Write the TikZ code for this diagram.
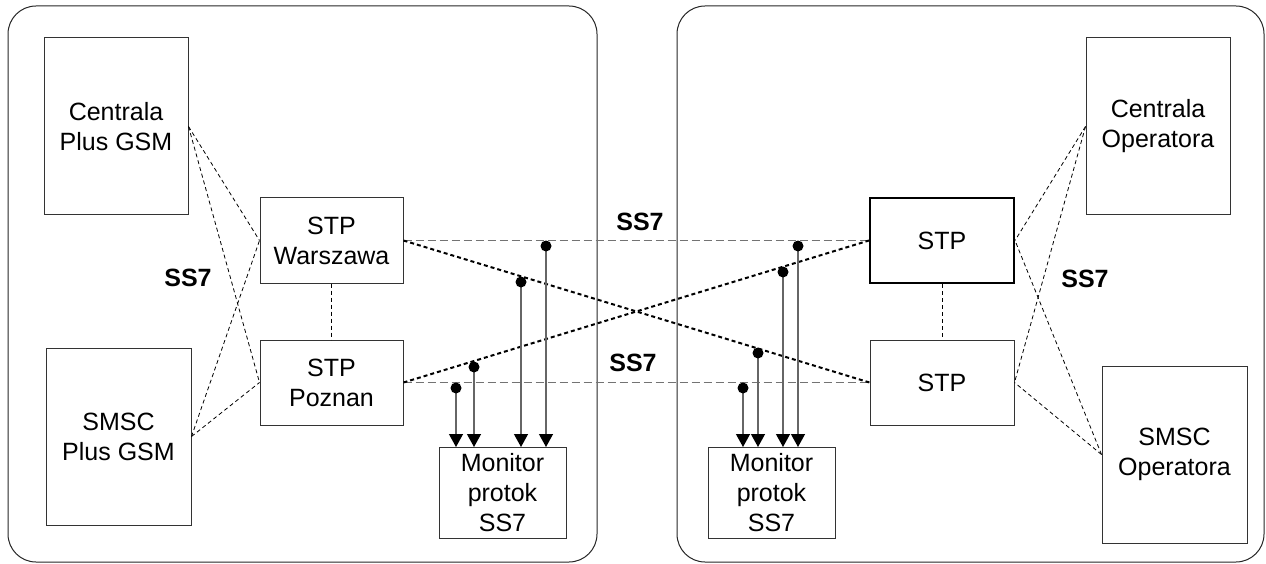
\documentclass[tikz,border=0pt]{standalone}
\usepackage{fontspec}
\setmainfont{Liberation Sans}
\usetikzlibrary{arrows.meta}
\tikzset{
  box/.style={draw=black!80, line width=1pt, inner sep=0pt, align=center,
    font=\fontsize{25}{30}\selectfont},
  panel/.style={draw=black!85, line width=1pt, rounded corners=28pt},
  thindash/.style={draw=black, line width=0.8pt, dash pattern=on 4pt off 3pt},
  hdash/.style={draw=black!55, line width=1.6pt, dash pattern=on 8pt off 4pt},
  diag/.style={draw=black, line width=2pt, dash pattern=on 4pt off 3pt},
  tap/.style={draw=black!60, line width=1.3pt, -{Triangle[length=13pt,width=14pt,color=black]}},
  tapdot/.style={fill=black},
  lbl/.style={font=\fontsize{25}{30}\selectfont\bfseries, inner sep=0pt}
}
\begin{document}
\begin{tikzpicture}[x=1pt,y=-1pt]
\useasboundingbox (0,0) rectangle (1266,564);
% panels
\draw[panel] (8,6) rectangle (597,562);
\draw[panel] (677,6) rectangle (1264,562);
% boxes
\node[box, minimum width=144pt, minimum height=177pt] (cenA) at (116,126.5) {Centrala\\Plus GSM};
\node[box, minimum width=145pt, minimum height=177pt] (smsA) at (118.5,436.5) {SMSC\\Plus GSM};
\node[box, minimum width=143pt, minimum height=85pt] (stpW) at (331.5,240.5) {STP\\Warszawa};
\node[box, minimum width=143pt, minimum height=85pt] (stpP) at (331.5,382.5) {STP\\Poznan};
\node[box, minimum width=127pt, minimum height=91pt] (monA) at (502.5,493) {Monitor\\protok\\SS7};
\node[box, line width=2pt, draw=black, minimum width=144pt, minimum height=85pt] (stpR1) at (942,240.5) {STP};
\node[box, minimum width=144pt, minimum height=85pt] (stpR2) at (942,382.5) {STP};
\node[box, minimum width=144pt, minimum height=177pt] (cenB) at (1158,126.5) {Centrala\\Operatora};
\node[box, minimum width=145pt, minimum height=177pt] (smsB) at (1174.5,454.5) {SMSC\\Operatora};
\node[box, minimum width=127pt, minimum height=91pt] (monB) at (771.5,493) {Monitor\\protok\\SS7};
% labels
\node[lbl] (l1) at (188,278) {SS7};
\node[lbl] (l2) at (640,222) {SS7};
\node[lbl] (l3) at (633,363) {SS7};
\node[lbl] (l4) at (1085,279) {SS7};
% local links
\draw[thindash] (cenA.east) -- (stpW.west);
\draw[thindash] (cenA.east) -- (stpP.west);
\draw[thindash] (smsA.east) -- (stpW.west);
\draw[thindash] (smsA.east) -- (stpP.west);
\draw[thindash] (cenB.west) -- (stpR1.east);
\draw[thindash] (cenB.west) -- (stpR2.east);
\draw[thindash] (smsB.west) -- (stpR1.east);
\draw[thindash] (smsB.west) -- (stpR2.east);
\draw[thindash] (stpW.south) -- (stpP.north);
\draw[thindash] (stpR1.south) -- (stpR2.north);
% inter-network links
\draw[hdash] (stpW.east) -- (stpR1.west);
\draw[hdash] (stpP.east) -- (stpR2.west);
\draw[diag] (stpW.east) -- (stpR2.west);
\draw[diag] (stpP.east) -- (stpR1.west);
% taps
\coordinate (a1) at (456,388);
\coordinate (a2) at (474,367);
\coordinate (a3) at (521,282);
\coordinate (a4) at (546,246);
\coordinate (b1) at (743,388);
\coordinate (b2) at (758,353);
\coordinate (b3) at (783,272);
\coordinate (b4) at (798,246);
\foreach \p in {a1,a2,a3,a4}{
  \draw[tap] (\p) -- (\p |- monA.north);
  \fill[tapdot] (\p) circle (5.5pt);
}
\foreach \p in {b1,b2,b3,b4}{
  \draw[tap] (\p) -- (\p |- monB.north);
  \fill[tapdot] (\p) circle (5.5pt);
}
\end{tikzpicture}
\end{document}
